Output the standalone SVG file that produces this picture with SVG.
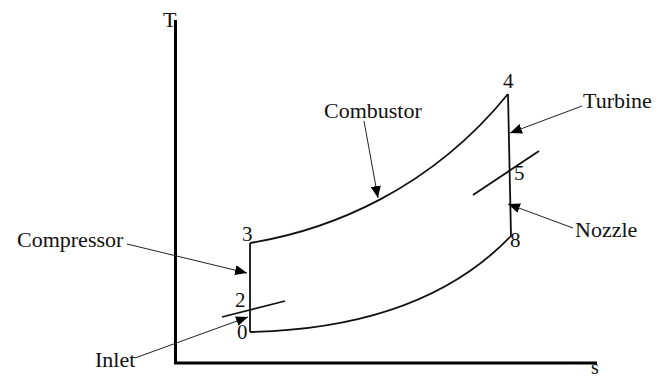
<svg xmlns="http://www.w3.org/2000/svg" width="665" height="378" viewBox="0 0 665 378">
<style>
text{font-family:"Liberation Serif","Times New Roman",serif;font-size:22px;fill:#111}
.num{font-size:21px}
.axis{stroke:#000;stroke-width:3;fill:none}
.curve{stroke:#111;stroke-width:1.8;fill:none}
.lead{stroke:#222;stroke-width:1;fill:none;marker-end:url(#ah)}
</style>
<defs>
<marker id="ah" markerUnits="userSpaceOnUse" markerWidth="14" markerHeight="10" refX="12" refY="5" orient="auto">
<path d="M0,0 L12,5 L0,10 Z" fill="#000"/>
</marker>
</defs>
<g id="axes">
<path class="axis" d="M175.5,20 L175.5,363 L597,363"/>
<text x="163" y="27">T</text>
<text x="591" y="374" style="font-size:20px">s</text>
</g>
<g id="cycle">
<path class="curve" d="M250,243 C330,230 430,190 508,94"/>
<path class="curve" d="M508,94 L511,236"/>
<path class="curve" d="M250,332 C340,330 440,310 511,236"/>
<path class="curve" d="M250,243 L250,332"/>
<path class="curve" d="M222,317 L285,301"/>
<path class="curve" d="M473,195 L539,151"/>
</g>
<g id="points">
<text class="num" x="242" y="241">3</text>
<text class="num" x="235" y="307">2</text>
<text class="num" x="237" y="339">0</text>
<text class="num" x="503" y="88">4</text>
<text class="num" x="514" y="180">5</text>
<text class="num" x="510" y="247">8</text>
</g>
<g id="labels">
<text x="17" y="247">Compressor</text>
<text x="324" y="118">Combustor</text>
<text x="583" y="108">Turbine</text>
<text x="575" y="237">Nozzle</text>
<text x="95" y="367">Inlet</text>
</g>
<g id="connectors">
<path class="lead" d="M127,244 L247,273"/>
<path class="lead" d="M364,121 L378,198"/>
<path class="lead" d="M582,106 L510,133"/>
<path class="lead" d="M573,228 L508,204"/>
<path class="lead" d="M135,358 L248,317"/>
</g>
</svg>
